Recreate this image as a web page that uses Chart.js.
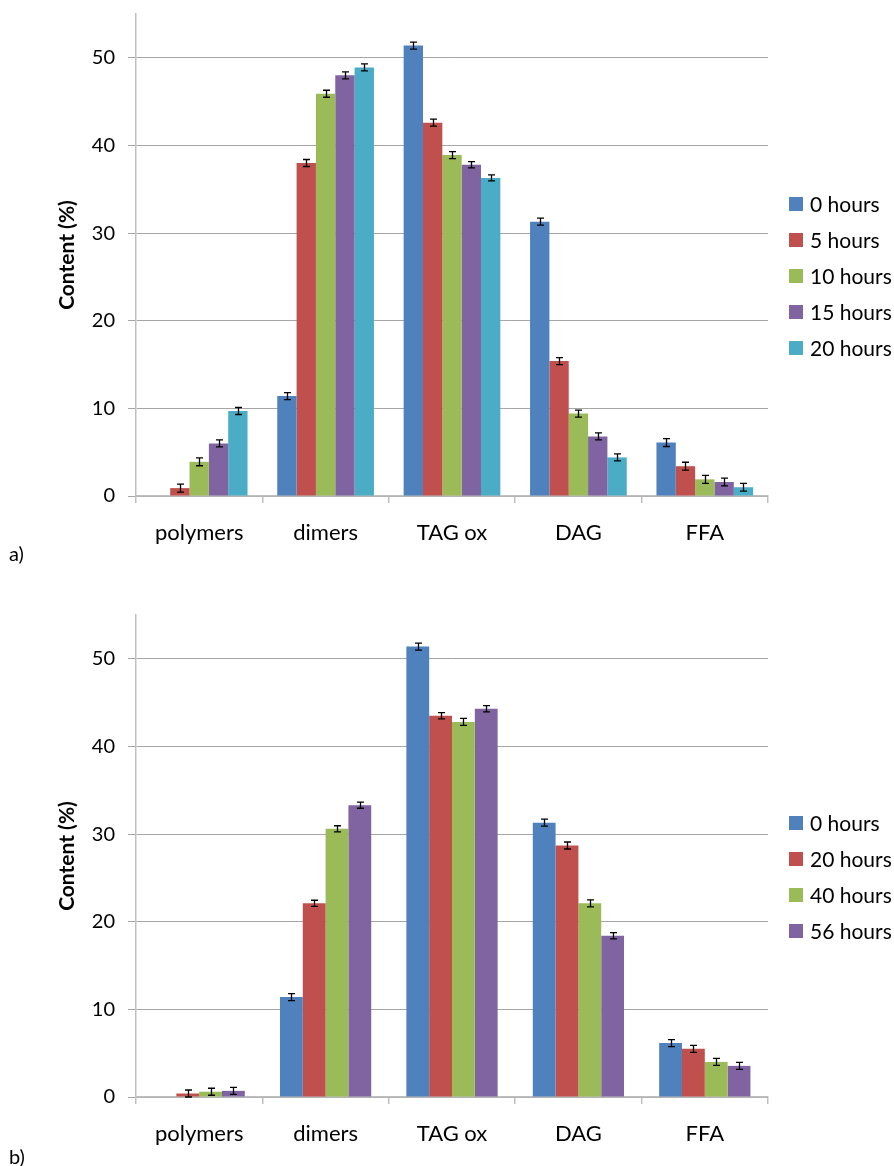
<!DOCTYPE html>
<html>
<head>
<meta charset="utf-8">
<script src="https://cdn.jsdelivr.net/npm/chart.js@4.4.1/dist/chart.umd.min.js"></script>
<style>
  html, body { margin: 0; padding: 0; background: #fff; }
  body { width: 894px; height: 1166px; position: relative; overflow: hidden; font-family: Lato, sans-serif; }
  .panel { position: absolute; left: 0; width: 894px; height: 583px; }
  .panel canvas { display: block; }
  .tag { position: absolute; left: 9px; font: 20px Lato, sans-serif; line-height: 24px; color: #000; }
</style>
</head>
<body>
<div class="panel" style="top:0"><canvas id="chartA" width="894" height="583"></canvas></div>
<div class="panel" style="top:583px"><canvas id="chartB" width="894" height="583"></canvas></div>
<div class="tag" style="top:541px">a)</div>
<div class="tag" style="top:1144px">b)</div>

<script>
// ---------- data ----------
const CATEGORIES = ["polymers", "dimers", "TAG ox", "DAG", "FFA"];

// a) series
const A_NAMES = ["0 hours", "5 hours", "10 hours", "15 hours", "20 hours"];
const A_H0 = [0, 11.4, 51.4, 31.3, 6.1];
const A_H5 = [0.9, 38.0, 42.6, 15.4, 3.4];
const A_H10 = [3.9, 45.9, 38.9, 9.4, 1.9];
const A_H15 = [6.0, 48.0, 37.8, 6.8, 1.6];
const A_H20 = [9.7, 48.9, 36.3, 4.4, 1.0];
const A_ERR0 = [0, 0.4, 0.4, 0.4, 0.45];
const A_ERR5 = [0.45, 0.4, 0.4, 0.4, 0.45];
const A_ERR10 = [0.45, 0.4, 0.4, 0.4, 0.45];
const A_ERR15 = [0.4, 0.4, 0.35, 0.4, 0.45];
const A_ERR20 = [0.4, 0.4, 0.35, 0.4, 0.45];

// b) series
const B_NAMES = ["0 hours", "20 hours", "40 hours", "56 hours"];
const B_H0 = [0, 11.4, 51.4, 31.3, 6.15];
const B_H20 = [0.4, 22.1, 43.5, 28.7, 5.5];
const B_H40 = [0.6, 30.6, 42.8, 22.1, 4.0];
const B_H56 = [0.7, 33.3, 44.3, 18.4, 3.55];
const B_ERR0 = [0, 0.4, 0.4, 0.4, 0.4];
const B_ERR20 = [0.4, 0.35, 0.35, 0.4, 0.4];
const B_ERR40 = [0.4, 0.35, 0.4, 0.4, 0.4];
const B_ERR56 = [0.4, 0.35, 0.35, 0.35, 0.4];

const Y_TICKS = [0, 10, 20, 30, 40, 50];
const Y_MAX = 55;
const Y_TITLE = "Content (%)";

const COLORS = ["#4f81bd", "#c0504d", "#9bbb59", "#8064a2", "#4bacc6"];
const FONT = "Lato, sans-serif";

// ---------- plugins ----------
const errorBars = {
  id: "errorBars",
  afterDatasetsDraw(chart) {
    const { ctx } = chart;
    const y = chart.scales.y;
    ctx.save();
    ctx.strokeStyle = "#000";
    ctx.lineWidth = 1.3;
    chart.data.datasets.forEach((ds, i) => {
      const meta = chart.getDatasetMeta(i);
      meta.data.forEach((bar, j) => {
        const v = ds.data[j];
        const e = ds.errors[j];
        if (!v || !e) return;
        const top = y.getPixelForValue(v + e);
        const bot = y.getPixelForValue(v - e);
        const x = Math.round(bar.x) + 0.5;
        ctx.beginPath();
        ctx.moveTo(x, top);
        ctx.lineTo(x, bot);
        ctx.moveTo(x - 3.5, top);
        ctx.lineTo(x + 3.5, top);
        ctx.moveTo(x - 3.5, bot);
        ctx.lineTo(x + 3.5, bot);
        ctx.stroke();
      });
    });
    ctx.restore();
  },
};

const sideLegend = {
  id: "sideLegend",
  afterDraw(chart) {
    const { ctx, chartArea: a } = chart;
    const list = chart.data.datasets;
    const step = 36;
    const mid = (a.top + a.bottom) / 2 + 21;
    const y0 = mid - ((list.length - 1) * step) / 2;
    ctx.save();
    ctx.font = "21px " + FONT;
    ctx.textBaseline = "middle";
    list.forEach((ds, i) => {
      const cy = y0 + i * step;
      ctx.fillStyle = ds.backgroundColor;
      ctx.fillRect(a.right + 21, cy - 7, 14, 14);
      ctx.fillStyle = "#000";
      ctx.fillText(ds.label, a.right + 42, cy + 1);
    });
    ctx.restore();
  },
};

// ---------- charts ----------
function makeChart(id, names, series, errors, geom) {
  const datasets = names.map((n, i) => ({
    label: n,
    data: series[i],
    errors: errors[i],
    backgroundColor: COLORS[i],
    borderWidth: 0,
    categoryPercentage: geom.cat,
    barPercentage: 1,
  }));
  return new Chart(document.getElementById(id), {
    type: "bar",
    data: { labels: CATEGORIES, datasets },
    plugins: [errorBars, sideLegend],
    options: {
      responsive: false,
      animation: false,
      layout: { padding: { top: geom.top, right: 126, left: 0, bottom: 0 } },
      plugins: { legend: { display: false }, tooltip: { enabled: false } },
      scales: {
        x: {
          grid: {
            offset: true,
            drawOnChartArea: false,
            drawTicks: true,
            tickLength: 7,
            color: "#bfbfbf",
            lineWidth: 1.5,
          },
          border: { color: "#bfbfbf", width: 1.5 },
          ticks: { color: "#000", font: { family: FONT, size: 22 }, padding: 17 },
          afterFit: (s) => {
            s.height = geom.xh;
            s.paddingLeft = 0;
            s.paddingRight = 0;
          },
        },
        y: {
          min: 0,
          max: Y_MAX,
          afterBuildTicks: (s) => { s.ticks = Y_TICKS.map((v) => ({ value: v })); },
          ticks: { color: "#000", font: { family: FONT, size: 20 }, padding: 13 },
          grid: { color: "#a6a6a6", lineWidth: 1, tickLength: 8 },
          border: { color: "#bfbfbf", width: 1.5 },
          title: {
            display: true,
            text: Y_TITLE,
            color: "#000",
            font: { family: FONT, size: 21, weight: "bold" },
            padding: { top: 55, bottom: 0 },
          },
          afterFit: (s) => {
            s.width = 136;
            s.paddingTop = 0;
            s.paddingBottom = 0;
          },
        },
      },
    },
  });
}

makeChart("chartA", A_NAMES,
  [A_H0, A_H5, A_H10, A_H15, A_H20],
  [A_ERR0, A_ERR5, A_ERR10, A_ERR15, A_ERR20],
  { top: 14, xh: 87, cat: 0.765 });

makeChart("chartB", B_NAMES,
  [B_H0, B_H20, B_H40, B_H56],
  [B_ERR0, B_ERR20, B_ERR40, B_ERR56],
  { top: 32, xh: 69, cat: 0.722 });
</script>
</body>
</html>
